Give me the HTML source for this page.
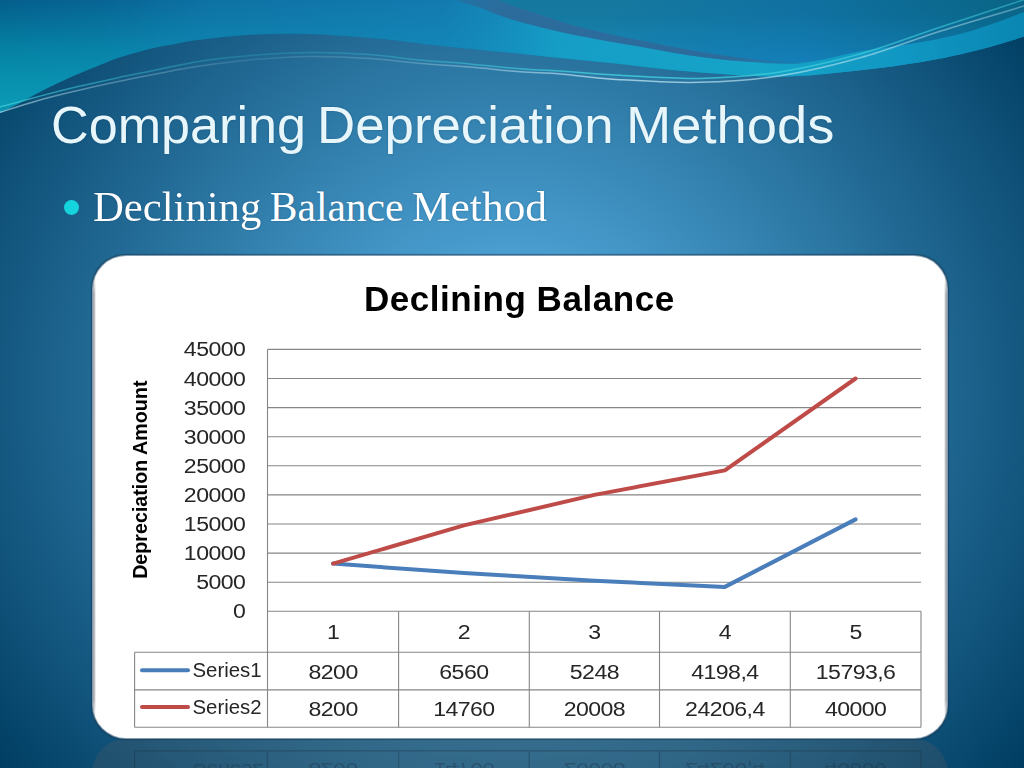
<!DOCTYPE html>
<html><head><meta charset="utf-8">
<style>
html,body{margin:0;padding:0;overflow:hidden;}
body{width:1024px;height:768px;overflow:hidden;position:relative;
 background: radial-gradient(1000px 950px at 510px 390px, #5EBAEF 0%, #003D62 65%);
 font-family:"Liberation Sans",sans-serif;}
#title,.tw{position:absolute;left:51px;top:92px;font-size:52.5px;color:#E6F6FA;white-space:nowrap;line-height:66px;transform-origin:0 0;text-shadow:0 0 2px rgba(0,40,80,0.35);}
#bullet{position:absolute;left:64.3px;top:200.1px;width:14.8px;height:14.8px;border-radius:50%;background:#16D4DE;}
#sub,.sw{position:absolute;left:92px;top:183px;font-family:"Liberation Serif",serif;font-size:41.5px;color:#FFFFFF;white-space:nowrap;line-height:48px;transform-origin:0 0;text-shadow:0 0 2px rgba(0,40,80,0.3);}
#box{position:absolute;left:92px;top:255px;width:856px;height:484px;background:#fff;border:1px solid rgba(110,140,165,0.85);border-radius:34px;box-shadow:0 0 1px 0.3px rgba(20,50,70,0.5);box-sizing:border-box;}
#refl{position:absolute;left:92px;top:739px;width:856px;height:484px;background:rgba(92,92,92,0.25);border-radius:34px;}
</style></head><body>
<svg id="wave" width="1024" height="140" viewBox="0 0 1024 140" style="position:absolute;left:0;top:0">
<defs>
 <linearGradient id="wg1" gradientUnits="userSpaceOnUse" x1="0" y1="0" x2="0" y2="112">
  <stop offset="0" stop-color="#045E8C"/>
  <stop offset="0.45" stop-color="#0582A4"/>
  <stop offset="0.7" stop-color="#0890AE"/>
  <stop offset="1" stop-color="#0A9AB6"/>
 </linearGradient>
 <linearGradient id="wgH" gradientUnits="userSpaceOnUse" x1="0" y1="0" x2="1024" y2="0">
  <stop offset="0" stop-color="#1A88C0" stop-opacity="0"/>
  <stop offset="0.1" stop-color="#1A88C0" stop-opacity="0.15"/>
  <stop offset="0.2" stop-color="#1A88C0" stop-opacity="0.45"/>
  <stop offset="0.3" stop-color="#1A88C0" stop-opacity="0.55"/>
  <stop offset="0.4" stop-color="#1A88C0" stop-opacity="0.65"/>
  <stop offset="0.5" stop-color="#1A88C0" stop-opacity="0.7"/>
  <stop offset="1" stop-color="#1A88C0" stop-opacity="0.7"/>
 </linearGradient>
 <radialGradient id="wgB" gradientUnits="userSpaceOnUse" cx="620" cy="62" r="300" gradientTransform="translate(620,62) scale(1,0.3) translate(-620,-62)">
  <stop offset="0" stop-color="#18A6CC" stop-opacity="1"/>
  <stop offset="0.45" stop-color="#16A0C8" stop-opacity="0.9"/>
  <stop offset="1" stop-color="#1490C0" stop-opacity="0"/>
 </radialGradient>
 <linearGradient id="wgR" gradientUnits="userSpaceOnUse" x1="600" y1="0" x2="1000" y2="0">
  <stop offset="0" stop-color="#167EA6"/>
  <stop offset="0.5" stop-color="#1176A8"/>
  <stop offset="1" stop-color="#0A6A8E"/>
 </linearGradient>
 <linearGradient id="wgRv" gradientUnits="userSpaceOnUse" x1="0" y1="0" x2="0" y2="64">
  <stop offset="0" stop-color="#000000" stop-opacity="0.04"/>
  <stop offset="0.5" stop-color="#1888C8" stop-opacity="0.1"/>
  <stop offset="1" stop-color="#1890D8" stop-opacity="0.35"/>
 </linearGradient>
 <linearGradient id="wgT" gradientUnits="userSpaceOnUse" x1="0" y1="12" x2="0" y2="76">
  <stop offset="0" stop-color="#0C8CBA"/>
  <stop offset="0.5" stop-color="#0E96C2"/>
  <stop offset="1" stop-color="#1098C4"/>
 </linearGradient>
 <linearGradient id="wgT2" gradientUnits="userSpaceOnUse" x1="440" y1="0" x2="1024" y2="0">
  <stop offset="0" stop-color="#1490C0" stop-opacity="0"/>
  <stop offset="0.2" stop-color="#16A0C8" stop-opacity="0.9"/>
  <stop offset="0.55" stop-color="#16A4C8"/>
  <stop offset="0.8" stop-color="#1096C2"/>
  <stop offset="1" stop-color="#0A86B2"/>
 </linearGradient>
 <linearGradient id="wgS" gradientUnits="userSpaceOnUse" x1="452" y1="0" x2="800" y2="0">
  <stop offset="0" stop-color="#2C6C9C" stop-opacity="0.5"/>
  <stop offset="0.15" stop-color="#2C6C9C" stop-opacity="1"/>
  <stop offset="0.8" stop-color="#2C6C9C" stop-opacity="1"/>
  <stop offset="1" stop-color="#2C6C9C" stop-opacity="0.3"/>
 </linearGradient>
 <linearGradient id="wgL" gradientUnits="userSpaceOnUse" x1="0" y1="0" x2="1024" y2="0">
  <stop offset="0" stop-color="#40D0DC" stop-opacity="0.7"/>
  <stop offset="0.1" stop-color="#40D0DC" stop-opacity="0.45"/>
  <stop offset="0.25" stop-color="#40D0DC" stop-opacity="0.2"/>
  <stop offset="0.4" stop-color="#40D0DC" stop-opacity="0.35"/>
  <stop offset="0.6" stop-color="#40D0DC" stop-opacity="0.85"/>
  <stop offset="0.8" stop-color="#40D0DC" stop-opacity="0.7"/>
  <stop offset="1" stop-color="#40D0DC" stop-opacity="0.5"/>
 </linearGradient>
 <linearGradient id="wgL2" gradientUnits="userSpaceOnUse" x1="0" y1="0" x2="1024" y2="0">
  <stop offset="0" stop-color="#C0E8F4" stop-opacity="0.6"/>
  <stop offset="0.1" stop-color="#C0E8F4" stop-opacity="0.35"/>
  <stop offset="0.25" stop-color="#C0E8F4" stop-opacity="0.12"/>
  <stop offset="0.4" stop-color="#C0E8F4" stop-opacity="0.25"/>
  <stop offset="0.6" stop-color="#C0E8F4" stop-opacity="0.75"/>
  <stop offset="0.8" stop-color="#C0E8F4" stop-opacity="0.6"/>
  <stop offset="1" stop-color="#C0E8F4" stop-opacity="0.4"/>
 </linearGradient>
 <filter id="soft" x="-5%" y="-50%" width="110%" height="200%"><feGaussianBlur stdDeviation="0.45"/></filter>
</defs>
<path d="M-2,-2 L1026,-2 L1026,36 C1017.3,38.5 991.0,46.8 974.0,51.0 C957.0,55.2 943.0,58.3 924.0,61.5 C905.0,64.7 884.0,67.8 860.0,70.3 C836.0,72.8 808.3,76.4 780.0,76.6 C751.7,76.8 716.7,73.7 690.0,71.6 C663.3,69.5 638.3,65.9 620.0,64.0 C601.7,62.1 596.7,61.7 580.0,60.0 C563.3,58.3 538.3,55.6 520.0,53.7 C501.7,51.8 486.7,50.5 470.0,48.8 C453.3,47.1 435.0,45.1 420.0,43.4 C405.0,41.7 398.3,40.4 380.0,38.8 C361.7,37.2 331.7,34.7 310.0,34.0 C288.3,33.3 268.3,33.8 250.0,34.8 C231.7,35.8 212.3,38.3 200.0,39.8 C187.7,41.3 183.3,42.4 176.0,43.7 C168.7,45.0 162.6,46.1 156.0,47.6 C149.4,49.1 143.2,50.7 136.7,52.5 C130.2,54.3 123.5,56.0 117.0,58.3 C110.5,60.6 104.2,63.5 97.7,66.1 C91.2,68.7 84.5,71.2 78.0,74.0 C71.5,76.8 65.1,79.6 58.6,82.7 C52.1,85.8 45.5,89.1 39.0,92.5 C32.5,95.9 26.3,99.6 19.5,103.2 C12.7,106.8 1.6,112.2 -2.0,114.0 Z" fill="url(#wg1)"/>
<path d="M-2,-2 L1026,-2 L1026,36 C1017.3,38.5 991.0,46.8 974.0,51.0 C957.0,55.2 943.0,58.3 924.0,61.5 C905.0,64.7 884.0,67.8 860.0,70.3 C836.0,72.8 808.3,76.4 780.0,76.6 C751.7,76.8 716.7,73.7 690.0,71.6 C663.3,69.5 638.3,65.9 620.0,64.0 C601.7,62.1 596.7,61.7 580.0,60.0 C563.3,58.3 538.3,55.6 520.0,53.7 C501.7,51.8 486.7,50.5 470.0,48.8 C453.3,47.1 435.0,45.1 420.0,43.4 C405.0,41.7 398.3,40.4 380.0,38.8 C361.7,37.2 331.7,34.7 310.0,34.0 C288.3,33.3 268.3,33.8 250.0,34.8 C231.7,35.8 212.3,38.3 200.0,39.8 C187.7,41.3 183.3,42.4 176.0,43.7 C168.7,45.0 162.6,46.1 156.0,47.6 C149.4,49.1 143.2,50.7 136.7,52.5 C130.2,54.3 123.5,56.0 117.0,58.3 C110.5,60.6 104.2,63.5 97.7,66.1 C91.2,68.7 84.5,71.2 78.0,74.0 C71.5,76.8 65.1,79.6 58.6,82.7 C52.1,85.8 45.5,89.1 39.0,92.5 C32.5,95.9 26.3,99.6 19.5,103.2 C12.7,106.8 1.6,112.2 -2.0,114.0 Z" fill="url(#wgH)"/>
<path d="M495,-2 L1026,-2 L1026,11.5 C1017.3,14.6 991.0,25.2 974.0,30.2 C957.0,35.2 943.0,38.1 924.0,41.7 C905.0,45.3 880.7,48.1 860.0,51.6 C839.3,55.1 819.2,61.4 800.0,62.5 C780.8,63.6 763.3,60.4 745.0,58.3 C726.7,56.2 708.3,53.2 690.0,50.0 C671.7,46.8 653.3,43.1 635.0,39.3 C616.7,35.5 597.5,31.6 580.0,27.0 C562.5,22.4 541.5,15.1 530.0,11.5 C518.5,7.9 516.8,7.3 511.0,5.2 C505.2,3.1 497.7,0.0 495.0,-1.0 Z" fill="url(#wgR)"/>
<path d="M495,-2 L1026,-2 L1026,11.5 C1017.3,14.6 991.0,25.2 974.0,30.2 C957.0,35.2 943.0,38.1 924.0,41.7 C905.0,45.3 880.7,48.1 860.0,51.6 C839.3,55.1 819.2,61.4 800.0,62.5 C780.8,63.6 763.3,60.4 745.0,58.3 C726.7,56.2 708.3,53.2 690.0,50.0 C671.7,46.8 653.3,43.1 635.0,39.3 C616.7,35.5 597.5,31.6 580.0,27.0 C562.5,22.4 541.5,15.1 530.0,11.5 C518.5,7.9 516.8,7.3 511.0,5.2 C505.2,3.1 497.7,0.0 495.0,-1.0 Z" fill="url(#wgRv)"/>
<path d="M452.0,-1.0 C456.7,0.5 472.0,5.0 480.0,7.8 C488.0,10.6 491.7,12.8 500.0,15.6 C508.3,18.4 516.7,21.1 530.0,24.5 C543.3,27.9 562.5,32.5 580.0,36.0 C597.5,39.5 616.7,42.6 635.0,45.8 C653.3,49.0 671.7,52.8 690.0,55.4 C708.3,58.0 726.7,60.1 745.0,61.5 C763.3,62.9 780.8,65.2 800.0,63.5 C819.2,61.9 839.3,55.2 860.0,51.6 C880.7,48.0 905.0,45.3 924.0,41.7 C943.0,38.1 957.0,35.2 974.0,30.2 C991.0,25.2 1017.3,14.6 1026.0,11.5 L1026,36 C1017.3,38.5 991.0,46.8 974.0,51.0 C957.0,55.2 943.0,58.3 924.0,61.5 C905.0,64.7 884.0,67.8 860.0,70.3 C836.0,72.8 808.3,76.4 780.0,76.6 C751.7,76.8 716.7,73.7 690.0,71.6 C663.3,69.5 638.3,65.9 620.0,64.0 C601.7,62.1 596.7,61.7 580.0,60.0 C563.3,58.3 538.3,55.6 520.0,53.7 C501.7,51.8 486.7,50.5 470.0,48.8 C453.3,47.1 428.3,44.3 420.0,43.4 Z" fill="url(#wgT2)"/>
<path d="M495.0,-1.0 C497.7,0.0 505.2,3.1 511.0,5.2 C516.8,7.3 518.5,7.9 530.0,11.5 C541.5,15.1 562.5,22.4 580.0,27.0 C597.5,31.6 616.7,35.5 635.0,39.3 C653.3,43.1 671.7,46.8 690.0,50.0 C708.3,53.2 726.7,56.2 745.0,58.3 C763.3,60.4 790.8,61.8 800.0,62.5 L800,63.5 C790.8,63.2 763.3,62.9 745.0,61.5 C726.7,60.1 708.3,58.0 690.0,55.4 C671.7,52.8 653.3,49.0 635.0,45.8 C616.7,42.6 597.5,39.5 580.0,36.0 C562.5,32.5 543.3,27.9 530.0,24.5 C516.7,21.1 508.3,18.4 500.0,15.6 C491.7,12.8 488.0,10.6 480.0,7.8 C472.0,5.0 456.7,0.5 452.0,-1.0 Z" fill="url(#wgS)"/>
<path d="M-2.0,114.0 C1.6,112.2 12.7,106.8 19.5,103.2 C26.3,99.6 32.5,95.9 39.0,92.5 C45.5,89.1 52.1,85.8 58.6,82.7 C65.1,79.6 71.5,76.8 78.0,74.0 C84.5,71.2 91.2,68.7 97.7,66.1 C104.2,63.5 110.5,60.6 117.0,58.3 C123.5,56.0 130.2,54.3 136.7,52.5 C143.2,50.7 149.4,49.1 156.0,47.6 C162.6,46.1 168.7,45.0 176.0,43.7 C183.3,42.4 187.7,41.3 200.0,39.8 C212.3,38.3 231.7,35.8 250.0,34.8 C268.3,33.8 288.3,33.3 310.0,34.0 C331.7,34.7 361.7,37.2 380.0,38.8 C398.3,40.4 405.0,41.7 420.0,43.4 C435.0,45.1 453.3,47.1 470.0,48.8 C486.7,50.5 501.7,51.8 520.0,53.7 C538.3,55.6 563.3,58.3 580.0,60.0 C596.7,61.7 601.7,62.1 620.0,64.0 C638.3,65.9 678.3,70.3 690.0,71.6 L740,76 C686.7,77.9 643.3,76.5 620.0,75.3 C596.7,74.1 576.7,72.1 560.0,71.0 C543.3,69.9 535.0,70.0 520.0,68.8 C505.0,67.6 486.7,65.4 470.0,63.9 C453.3,62.4 436.7,61.6 420.0,60.0 C403.3,58.4 388.3,55.8 370.0,54.5 C351.7,53.2 330.0,52.3 310.0,52.5 C290.0,52.7 268.3,54.0 250.0,55.5 C231.7,57.0 215.7,58.8 200.0,61.2 C184.3,63.7 169.8,67.2 156.0,70.0 C142.2,72.8 130.0,75.1 117.0,77.9 C104.0,80.7 91.0,83.5 78.0,86.6 C65.0,89.7 52.3,92.9 39.0,96.4 C25.7,99.9 4.8,105.7 -2.0,107.5 Z" fill="#0A3A60" opacity="0.05"/>
<path d="M-2.0,107.5 C4.8,105.7 25.7,99.9 39.0,96.4 C52.3,92.9 65.0,89.7 78.0,86.6 C91.0,83.5 104.0,80.7 117.0,77.9 C130.0,75.1 142.2,72.8 156.0,70.0 C169.8,67.2 184.3,63.7 200.0,61.2 C215.7,58.8 231.7,57.0 250.0,55.5 C268.3,54.0 290.0,52.7 310.0,52.5 C330.0,52.3 351.7,53.2 370.0,54.5 C388.3,55.8 403.3,58.4 420.0,60.0 C436.7,61.6 453.3,62.4 470.0,63.9 C486.7,65.4 505.0,67.6 520.0,68.8 C535.0,70.0 543.3,69.9 560.0,71.0 C576.7,72.1 596.7,74.1 620.0,75.3 C643.3,76.5 673.3,79.0 700.0,78.4 C726.7,77.8 753.3,76.0 780.0,71.9 C806.7,67.8 833.3,61.4 860.0,54.0 C886.7,46.6 912.3,36.5 940.0,27.3 C967.7,18.1 1011.7,3.7 1026.0,-1.0" fill="none" stroke="url(#wgL)" stroke-width="1.5" filter="url(#soft)"/>
<path d="M-2.0,113.0 C4.8,110.9 25.7,104.0 39.0,100.3 C52.3,96.5 65.0,93.6 78.0,90.5 C91.0,87.4 104.0,84.5 117.0,81.8 C130.0,79.0 142.2,76.6 156.0,74.0 C169.8,71.4 184.3,68.4 200.0,66.1 C215.7,63.8 231.7,61.6 250.0,60.0 C268.3,58.4 290.0,56.8 310.0,56.5 C330.0,56.2 351.7,57.3 370.0,58.5 C388.3,59.7 403.3,62.1 420.0,63.5 C436.7,64.9 453.3,65.6 470.0,67.0 C486.7,68.4 505.0,70.6 520.0,71.8 C535.0,73.0 543.3,72.7 560.0,74.0 C576.7,75.3 596.7,78.3 620.0,79.7 C643.3,81.1 673.3,83.0 700.0,82.3 C726.7,81.6 753.3,79.9 780.0,75.8 C806.7,71.7 833.3,65.2 860.0,57.8 C886.7,50.4 912.3,40.0 940.0,31.2 C967.7,22.5 1011.7,9.8 1026.0,5.5" fill="none" stroke="url(#wgL2)" stroke-width="1.5" filter="url(#soft)"/>
</svg>
<div class="tw" style="left:50.8px;transform:scaleX(0.993)">Comparing</div><div class="tw" style="left:317px;transform:scaleX(1.006)">Depreciation</div><div class="tw" style="left:625.7px;transform:scaleX(1.035)">Methods</div>
<div id="bullet"></div>
<div class="sw" style="left:93px;transform:scaleX(1.028)">Declining</div><div class="sw" style="left:269.8px">Balance</div><div class="sw" style="left:411.5px;transform:scaleX(1.046)">Method</div>
<div id="refl"></div>
<div id="box"></div>
<div style="position:absolute;left:93px;top:272px;width:3px;height:450px;background:linear-gradient(90deg,rgba(128,130,138,0.8),rgba(128,130,138,0.5) 50%,rgba(128,130,138,0));-webkit-mask-image:linear-gradient(180deg,transparent,#000 22px,#000 428px,transparent)"></div>
<div style="position:absolute;left:944px;top:272px;width:3px;height:450px;background:linear-gradient(270deg,rgba(128,130,138,0.8),rgba(128,130,138,0.5) 50%,rgba(128,130,138,0));-webkit-mask-image:linear-gradient(180deg,transparent,#000 22px,#000 428px,transparent)"></div>
<svg id="chart" width="1024" height="768" viewBox="0 0 1024 768" style="position:absolute;left:0;top:0;will-change:transform">
 <text x="519.3" y="310.6" text-anchor="middle" font-family="Liberation Sans" font-weight="bold" font-size="35" letter-spacing="0.55" fill="#000">Declining Balance</text>
 <g stroke="#868686" stroke-width="1.1">
<line x1="267.5" y1="349.4" x2="921.0" y2="349.4"/>
<line x1="267.5" y1="378.5" x2="921.0" y2="378.5"/>
<line x1="267.5" y1="407.6" x2="921.0" y2="407.6"/>
<line x1="267.5" y1="436.7" x2="921.0" y2="436.7"/>
<line x1="267.5" y1="465.8" x2="921.0" y2="465.8"/>
<line x1="267.5" y1="494.9" x2="921.0" y2="494.9"/>
<line x1="267.5" y1="524.0" x2="921.0" y2="524.0"/>
<line x1="267.5" y1="553.1" x2="921.0" y2="553.1"/>
<line x1="267.5" y1="582.2" x2="921.0" y2="582.2"/>
<line x1="267.5" y1="611.3" x2="921.0" y2="611.3"/>
<line x1="134.6" y1="652.3" x2="921.0" y2="652.3"/>
<line x1="134.6" y1="689.9" x2="921.0" y2="689.9"/>
<line x1="134.6" y1="727.2" x2="921.0" y2="727.2"/>
<line x1="134.6" y1="652.3" x2="134.6" y2="727.2"/>
<line x1="267.5" y1="349.4" x2="267.5" y2="727.2"/>
<line x1="398.6" y1="611.3" x2="398.6" y2="727.2"/>
<line x1="529.3" y1="611.3" x2="529.3" y2="727.2"/>
<line x1="659.5" y1="611.3" x2="659.5" y2="727.2"/>
<line x1="790.3" y1="611.3" x2="790.3" y2="727.2"/>
<line x1="921.0" y1="611.3" x2="921.0" y2="727.2"/>
 </g>
 <g font-family="Liberation Sans" font-size="21" fill="#262626">
<text transform="translate(245.3,356.4) scale(1.1,1)" text-anchor="end" letter-spacing="-0.5">45000</text>
<text transform="translate(245.3,385.5) scale(1.1,1)" text-anchor="end" letter-spacing="-0.5">40000</text>
<text transform="translate(245.3,414.6) scale(1.1,1)" text-anchor="end" letter-spacing="-0.5">35000</text>
<text transform="translate(245.3,443.7) scale(1.1,1)" text-anchor="end" letter-spacing="-0.5">30000</text>
<text transform="translate(245.3,472.8) scale(1.1,1)" text-anchor="end" letter-spacing="-0.5">25000</text>
<text transform="translate(245.3,501.9) scale(1.1,1)" text-anchor="end" letter-spacing="-0.5">20000</text>
<text transform="translate(245.3,531.0) scale(1.1,1)" text-anchor="end" letter-spacing="-0.5">15000</text>
<text transform="translate(245.3,560.1) scale(1.1,1)" text-anchor="end" letter-spacing="-0.5">10000</text>
<text transform="translate(245.3,589.2) scale(1.1,1)" text-anchor="end" letter-spacing="-0.5">5000</text>
<text transform="translate(245.3,618.3) scale(1.1,1)" text-anchor="end" letter-spacing="-0.5">0</text>
<text transform="translate(333.1,638.8) scale(1.1,1)" text-anchor="middle" letter-spacing="-0.5">1</text>
<text transform="translate(333.1,678.7) scale(1.1,1)" text-anchor="middle" letter-spacing="-0.5">8200</text>
<text transform="translate(333.1,715.5) scale(1.1,1)" text-anchor="middle" letter-spacing="-0.5">8200</text>
<text transform="translate(463.9,638.8) scale(1.1,1)" text-anchor="middle" letter-spacing="-0.5">2</text>
<text transform="translate(463.9,678.7) scale(1.1,1)" text-anchor="middle" letter-spacing="-0.5">6560</text>
<text transform="translate(463.9,715.5) scale(1.1,1)" text-anchor="middle" letter-spacing="-0.5">14760</text>
<text transform="translate(594.4,638.8) scale(1.1,1)" text-anchor="middle" letter-spacing="-0.5">3</text>
<text transform="translate(594.4,678.7) scale(1.1,1)" text-anchor="middle" letter-spacing="-0.5">5248</text>
<text transform="translate(594.4,715.5) scale(1.1,1)" text-anchor="middle" letter-spacing="-0.5">20008</text>
<text transform="translate(724.9,638.8) scale(1.1,1)" text-anchor="middle" letter-spacing="-0.5">4</text>
<text transform="translate(724.9,678.7) scale(1.1,1)" text-anchor="middle" letter-spacing="-0.5">4198,4</text>
<text transform="translate(724.9,715.5) scale(1.1,1)" text-anchor="middle" letter-spacing="-0.5">24206,4</text>
<text transform="translate(855.6,638.8) scale(1.1,1)" text-anchor="middle" letter-spacing="-0.5">5</text>
<text transform="translate(855.6,678.7) scale(1.1,1)" text-anchor="middle" letter-spacing="-0.5">15793,6</text>
<text transform="translate(855.6,715.5) scale(1.1,1)" text-anchor="middle" letter-spacing="-0.5">40000</text>
 </g>
 <g font-family="Liberation Sans" font-size="20.4" fill="#262626">
 <text x="192.5" y="677">Series1</text>
 <text x="192.5" y="714">Series2</text>
 </g>
 <text transform="translate(146.5,479.7) rotate(-90)" text-anchor="middle" font-family="Liberation Sans" font-weight="bold" font-size="19.7" fill="#000">Depreciation Amount</text>
 <g transform="translate(0,1478) scale(1,-1)" opacity="0.35">
 <g stroke="#1A3040" stroke-width="1.2">
<line x1="134.6" y1="652.3" x2="921.0" y2="652.3"/>
<line x1="134.6" y1="689.9" x2="921.0" y2="689.9"/>
<line x1="134.6" y1="727.2" x2="921.0" y2="727.2"/>
<line x1="134.6" y1="652.3" x2="134.6" y2="727.2"/>
<line x1="267.5" y1="349.4" x2="267.5" y2="727.2"/>
<line x1="398.6" y1="611.3" x2="398.6" y2="727.2"/>
<line x1="529.3" y1="611.3" x2="529.3" y2="727.2"/>
<line x1="659.5" y1="611.3" x2="659.5" y2="727.2"/>
<line x1="790.3" y1="611.3" x2="790.3" y2="727.2"/>
<line x1="921.0" y1="611.3" x2="921.0" y2="727.2"/>
 </g>
 <g font-family="Liberation Sans" font-size="21" fill="#1A3040">
<text transform="translate(333.1,715.5) scale(1.1,1)" text-anchor="middle" letter-spacing="-0.5">8200</text>
<text transform="translate(463.9,715.5) scale(1.1,1)" text-anchor="middle" letter-spacing="-0.5">14760</text>
<text transform="translate(594.4,715.5) scale(1.1,1)" text-anchor="middle" letter-spacing="-0.5">20008</text>
<text transform="translate(724.9,715.5) scale(1.1,1)" text-anchor="middle" letter-spacing="-0.5">24206,4</text>
<text transform="translate(855.6,715.5) scale(1.1,1)" text-anchor="middle" letter-spacing="-0.5">40000</text>
 <text x="192.5" y="714">Series2</text>
 </g>
 <line x1="142" y1="707" x2="188" y2="707" stroke="#BE4B48" stroke-width="4"/>
 </g>
 <g fill="none" stroke-width="4" stroke-linecap="round" stroke-linejoin="round">
  <polyline points="333.1,563.6 463.9,573.1 594.4,580.8 724.9,586.9 855.6,519.4" stroke="#4A7EBB"/>
  <polyline points="333.1,563.6 463.9,525.4 594.4,494.9 724.9,470.4 855.6,378.5" stroke="#BE4B48"/>
  <line x1="142" y1="670.2" x2="188" y2="670.2" stroke="#4A7EBB"/>
  <line x1="142" y1="707" x2="188" y2="707" stroke="#BE4B48"/>
 </g>
</svg>
</body></html>
